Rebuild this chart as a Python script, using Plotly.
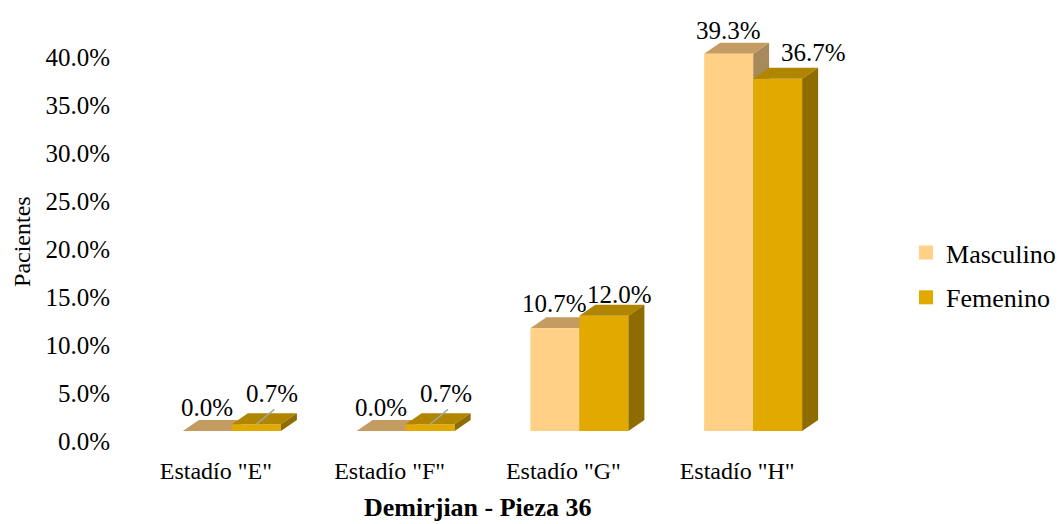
import plotly.graph_objects as go

# ---- data ----
categories = ['Estadío "E"', 'Estadío "F"', 'Estadío "G"', 'Estadío "H"']
masculino = [0.0, 0.0, 10.7, 39.3]
femenino = [0.7, 0.7, 12.0, 36.7]
y_ticks = [0, 5, 10, 15, 20, 25, 30, 35, 40]
y_tick_text = [f"{t:.1f}%" for t in y_ticks]

# ---- style ----
FONT = "Liberation Serif, Times New Roman, serif"
FS = 24
M_FRONT, M_TOP, M_SIDE = "#FFD086", "#C49C62", "#A8895C"
F_FRONT, F_TOP, F_SIDE = "#E2AA00", "#B08600", "#8E6C00"

PX_X = 173.7          # pixels per category step
PX_Y = 9.6            # pixels per percent
W = 49 / PX_X         # bar width (x units)
DX = 16 / PX_X        # depth offset, x
DY = 11 / PX_Y        # depth offset, y (percent units)
SHIFT = 16 / PX_X     # bar pair shift relative to the tick label
FLOOR = 10 / PX_Y     # front floor sits below the labelled zero

# label nudges (pixels)
m_label_dy = [13, 13, 14, 12]
f_label_dy = [20, 20, 10, 15]
f_label_dx = [0, 0, 0, 20]
f_leader = [True, True, False, False]


def faces(values, left_of_center):
    fr_x, fr_y, tp_x, tp_y, sd_x, sd_y = [], [], [], [], [], []
    for i, v in enumerate(values):
        c = i + SHIFT
        L = c - W if left_of_center else c
        R = L + W
        fr_x += [L, R, R, L, L, None]
        fr_y += [0, 0, v, v, 0, None]
        tp_x += [L, R, R + DX, L + DX, L, None]
        tp_y += [v, v, v + DY, v + DY, v, None]
        sd_x += [R, R + DX, R + DX, R, R, None]
        sd_y += [0, DY, v + DY, v, 0, None]
    return (fr_x, fr_y), (tp_x, tp_y), (sd_x, sd_y)


def poly(xy, color):
    return go.Scatter(x=xy[0], y=xy[1], mode="lines", fill="toself",
                      fillcolor=color, line=dict(width=0, color=color),
                      xaxis="x", yaxis="y2", showlegend=False,
                      hoverinfo="skip")


fig = go.Figure()

m_front, m_top, m_side = faces(masculino, True)
f_front, f_top, f_side = faces(femenino, False)

# back-to-front drawing order
fig.add_trace(poly(m_side, M_SIDE))
fig.add_trace(poly(m_top, M_TOP))
fig.add_trace(poly(m_front, M_FRONT))
fig.add_trace(poly(f_front, F_FRONT))
fig.add_trace(poly(f_top, F_TOP))
fig.add_trace(poly(f_side, F_SIDE))

# leader lines for the small labels
for i, v in enumerate(femenino):
    if f_leader[i]:
        cx = i + SHIFT + W / 2
        fig.add_trace(go.Scatter(x=[cx, cx + DX * 1.12], y=[v, v + DY * 1.36],
                                 mode="lines", line=dict(color="#A6A6A6", width=1.5),
                                 xaxis="x", yaxis="y2", showlegend=False,
                                 hoverinfo="skip"))

# legend entries
fig.add_trace(go.Scatter(x=[None], y=[None], mode="markers", name="Masculino",
                         marker=dict(symbol="square", size=14, color=M_FRONT),
                         legendgroup="m"))
fig.add_trace(go.Scatter(x=[None], y=[None], mode="markers", name="Femenino",
                         marker=dict(symbol="square", size=14, color=F_FRONT),
                         legendgroup="f"))

# value labels
annotations = []
for i, v in enumerate(masculino):
    c = i + SHIFT
    annotations.append(dict(x=c - W / 2, y=v + DY, xref="x", yref="y2",
                            text=f"{v:.1f}%", showarrow=False,
                            yshift=m_label_dy[i], xanchor="center",
                            yanchor="middle", font=dict(family=FONT, size=25)))
for i, v in enumerate(femenino):
    c = i + SHIFT
    annotations.append(dict(x=c + W / 2 + DX, y=v + DY, xref="x", yref="y2",
                            text=f"{v:.1f}%", showarrow=False,
                            yshift=f_label_dy[i], xshift=f_label_dx[i],
                            xanchor="center", yanchor="middle",
                            font=dict(family=FONT, size=25)))

# axis titles
annotations.append(dict(x=-0.154, y=0.463, xref="paper", yref="paper",
                        text="Pacientes", textangle=-90, showarrow=False,
                        xanchor="center", yanchor="middle",
                        font=dict(family=FONT, size=FS)))
annotations.append(dict(x=0.502, y=-0.1528, xref="paper", yref="paper",
                        text="<b>Demirjian - Pieza 36</b>", showarrow=False,
                        xanchor="center", yanchor="middle",
                        font=dict(family=FONT, size=26)))

fig.update_layout(
    width=1059, height=524,
    margin=dict(l=129, r=235, t=9, b=83, autoexpand=False),
    paper_bgcolor="white", plot_bgcolor="white",
    font=dict(family=FONT, size=FS, color="black"),
    xaxis=dict(range=[-0.5, 3.5], tickvals=list(range(len(categories))),
               ticktext=categories, showgrid=False, zeroline=False,
               showline=False, ticks="", ticklabelstandoff=13,
               tickfont=dict(family=FONT, size=24), fixedrange=True),
    yaxis=dict(range=[0, 45], tickvals=y_ticks, ticktext=y_tick_text,
               showgrid=False, zeroline=False, showline=False, ticks="",
               ticklabelstandoff=18, tickfont=dict(family=FONT, size=25),
               fixedrange=True),
    yaxis2=dict(range=[-FLOOR, 45 - FLOOR], overlaying="y", visible=False,
                fixedrange=True),
    legend=dict(x=1.118, y=0.384, xanchor="left", yanchor="middle",
                bgcolor="rgba(0,0,0,0)", tracegroupgap=8,
                font=dict(family=FONT, size=26)),
    annotations=annotations,
    showlegend=True,
)

fig.write_html("out.html")
